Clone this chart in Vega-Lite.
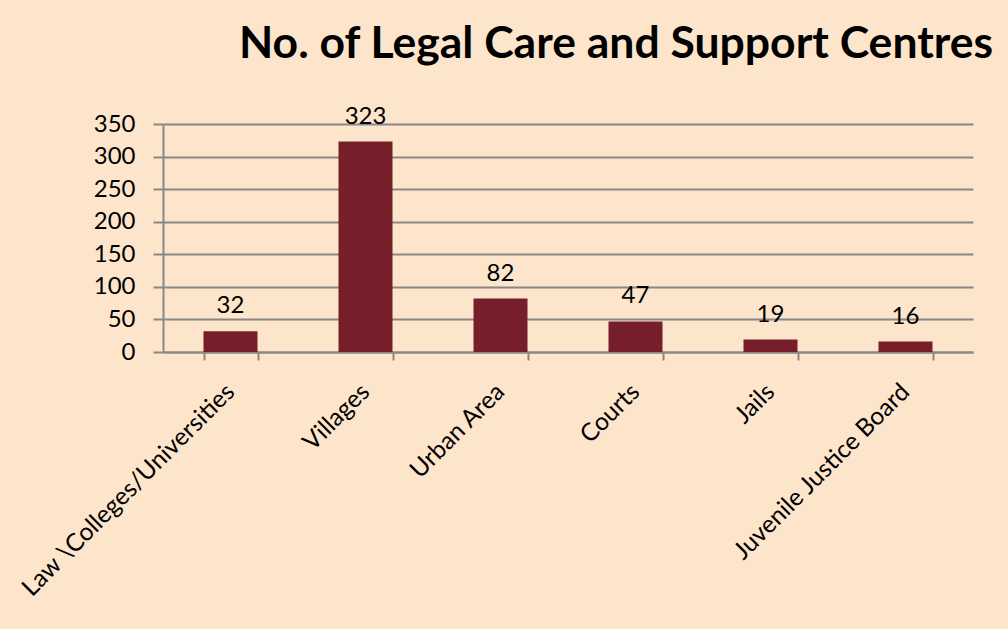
{
  "$schema": "https://vega.github.io/schema/vega-lite/v6.json",
  "width": 810,
  "height": 228,
  "autosize": {"type": "none"},
  "padding": {"left": 163, "top": 124, "right": 35, "bottom": 277},
  "background": "#FDE5CC",
  "title": {
    "text": "No. of Legal Care and Support Centres",
    "anchor": "end",
    "frame": "group",
    "font": "Lato",
    "fontSize": 44.5,
    "fontWeight": "bold",
    "color": "#000000",
    "dx": 20,
    "offset": 37
  },
  "data": {
    "values": [
      {"category": "Law \\Colleges/Universities", "count": 32},
      {"category": "Villages", "count": 323},
      {"category": "Urban Area", "count": 82},
      {"category": "Courts", "count": 47},
      {"category": "Jails", "count": 19},
      {"category": "Juvenile Justice Board", "count": 16}
    ]
  },
  "encoding": {
    "x": {
      "field": "category",
      "type": "nominal",
      "sort": null,
      "scale": {"paddingInner": 0.6, "paddingOuter": 0.3},
      "axis": {
        "title": null,
        "labelAngle": -45,
        "labelAlign": "right",
        "labelBaseline": "middle",
        "labelFont": "Lato",
        "labelFontSize": 24.5,
        "labelColor": "#000000",
        "labelPadding": 28,
        "labelLimit": 400,
        "tickBand": "extent",
        "tickSize": 8,
        "tickColor": "#888888",
        "tickWidth": 2,
        "domainColor": "#888888",
        "domainWidth": 2,
        "grid": false
      }
    },
    "y": {
      "field": "count",
      "type": "quantitative",
      "scale": {"domain": [0, 350], "nice": false},
      "axis": {
        "title": null,
        "values": [0, 50, 100, 150, 200, 250, 300, 350],
        "labelFont": "Lato",
        "labelFontSize": 24,
        "labelColor": "#000000",
        "labelPadding": 18,
        "tickSize": 10,
        "tickColor": "#888888",
        "tickWidth": 2,
        "domainColor": "#888888",
        "domainWidth": 2,
        "grid": true,
        "gridColor": "#888888",
        "gridWidth": 2
      }
    }
  },
  "layer": [
    {"mark": {"type": "bar", "color": "#761E29"}},
    {
      "mark": {"type": "text", "baseline": "bottom", "dy": -13, "font": "Lato", "fontSize": 24, "color": "#000000"},
      "encoding": {"text": {"field": "count", "type": "quantitative"}}
    }
  ],
  "config": {"view": {"stroke": null}}
}
